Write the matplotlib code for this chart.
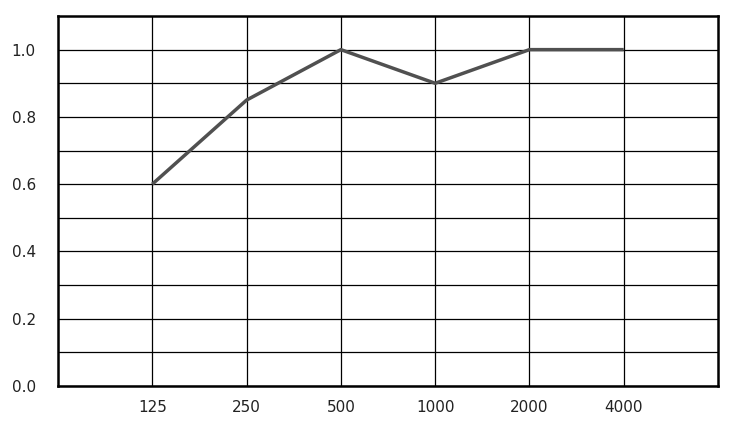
import matplotlib
matplotlib.use('Agg')
import matplotlib.pyplot as plt
import numpy as np

freqs = ['125', '250', '500', '1000', '2000', '4000']
alpha = [0.6, 0.85, 1.0, 0.9, 1.0, 1.0]
yticks = [0.0, 0.2, 0.4, 0.6, 0.8, 1.0]

fig = plt.figure(figsize=(7.5, 4.21), dpi=100)
ax = fig.add_axes([58/750, 1 - 386/421, 660/750, 370/421])

x = np.arange(1, len(freqs) + 1)
ax.plot(x, alpha, color='#505050', lw=2.5, solid_capstyle='butt', zorder=3)

ax.set_xlim(0, len(freqs) + 1)
ax.set_ylim(0, 1.1)
ax.set_xticks(x)
ax.set_xticklabels(freqs)
ax.set_yticks(yticks)
ax.set_yticklabels(['%.1f' % v for v in yticks])
ax.set_yticks(np.arange(0.1, 1.1, 0.2), minor=True)
ax.tick_params(which='both', length=0, labelsize=11, colors='#222222')
ax.tick_params(axis='y', pad=16)
ax.tick_params(axis='x', pad=10)

ax.grid(True, which='both', color='black', lw=0.9)
ax.set_axisbelow(True)
for s in ax.spines.values():
    s.set_linewidth(1.8)
    s.set_color('black')

fig.savefig('out.png', dpi=100)
